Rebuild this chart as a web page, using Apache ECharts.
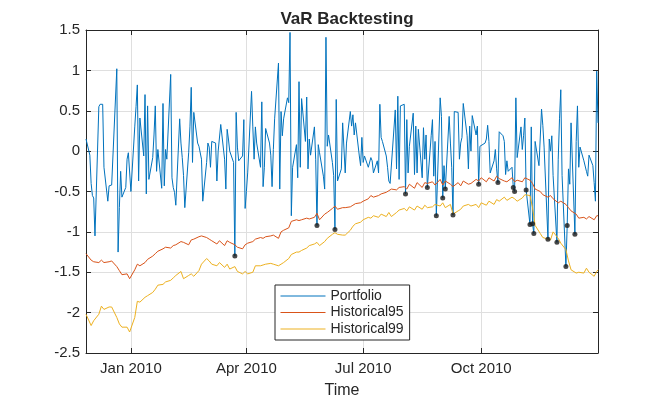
<!DOCTYPE html>
<html>
<head>
<meta charset="utf-8">
<title>VaR Backtesting</title>
<script src="https://cdn.jsdelivr.net/npm/echarts@6/dist/echarts.min.js"></script>
<style>
  html, body { margin: 0; padding: 0; background: #fff; }
  #chart { width: 661px; height: 398px; }
</style>
</head>
<body>
<div id="chart"></div>
<script>
// portfolio returns, one value per trading day (27-Nov-2009 .. 31-Dec-2010)
var portfolio = [
  // late Nov 2009 - mid Jan 2010
  0.15, -0.05, -0.40, -0.55, -0.58, -1.05, 0.55, 0.58, 0.57, 0.58, -0.20, -0.62, -0.43, -0.44, -0.42, -0.43, 1.02, -1.25,
  -0.70, -0.25, -0.57, -0.45, -0.10, -0.02, -0.04, -0.50, 0.30, 0.55, 0.82, -0.37, 0.41, -0.06, 0.70, -0.53, 0.56,
  // mid Jan - early Mar
  -0.35, -0.08, 0.20, 0.56, -0.25, 0.02, -0.46, 0.59, -0.43, 0.02, -0.10, 0.95, -0.33, -0.45, -0.51, -0.67, 0.40, 0.10,
  -0.08, -0.30, -0.70, -0.02, 0.30, 0.79, -0.14, 0.48, 0.10, 0.06, 0.04, -0.10, -0.62, -0.14, 0.10, 0.05, -0.20, 0.12,
  // Mar - Apr
  0.10, -0.37, 0.00, -0.02, 0.33, -0.10, -0.47, 0.27, 0.15, 0.00, -0.14, -1.30, 0.48, 0.05, -0.12, -0.06, 0.39, -0.71,
  -0.50, -0.27, 0.74, 0.30, -0.10, 0.30, 0.10, -0.20, 0.61, -0.44, -0.20, 0.28, 0.10, -0.05, -0.44, 0.02, 0.40,
  // late Apr - early Jun
  1.09, -0.47, 0.49, 0.19, 0.40, 0.66, 0.60, 1.47, -0.80, -0.20, 0.08, -0.33, 0.86, -0.20, 0.65, 0.12, 0.67, -0.22,
  0.15, -0.05, 0.30, -0.10, -0.92, 0.08, -0.02, -0.31, -0.47, 1.41, 0.06, 0.20, -0.14, -0.30, -0.97, 0.64, -0.37,
  // Jun - Jul
  -0.22, 0.35, 0.37, -0.27, 0.10, 0.49, 0.31, 0.45, 0.20, 0.35, -0.06, -0.18, 0.17, -0.14, -0.06, -0.20, -0.18, -0.08,
  -0.12, -0.27, -0.12, -0.27, 0.58, 0.17, 0.12, -0.06, -0.20, -0.37, -0.40, -0.42, 0.51, -0.22, 0.68, -0.35, 0.56,
  // Aug - mid Sep
  0.58, -0.53, 0.39, -0.27, 0.06, 0.47, -0.29, 0.31, -0.27, 0.27, -0.33, 0.29, -0.10, 0.20, -0.45, 0.19, 0.39, -0.31,
  0.12, -0.80, 0.66, 0.43, -0.58, -0.18, -0.47, 0.43, 0.10, -0.20, -0.79, 0.49, 0.48, -0.10, 0.10, 0.17, 0.59,
  // late Sep - early Nov
  0.19, -0.22, 0.31, 0.00, 0.44, 0.20, 0.31, -0.41, 0.06, 0.08, 0.10, 0.15, 0.32, 0.12, -0.27, -0.12, 0.02, -0.22,
  -0.39, 0.24, 0.19, 0.12, -0.29, -0.12, -0.25, -0.20, -0.45, -0.50, 0.66, -0.08, 0.30, 0.02, 0.19, 0.41, -0.48, -0.91,
  // Nov - Dec
  0.30, -0.90, -1.02, 0.12, -0.18, -0.16, 0.52, 0.32, 0.05, -1.09, 0.15, 0.00, 0.19, -0.30, -1.13, -0.10, 0.40, 0.76,
  -0.30, -1.43, -0.92, -0.22, -0.41, 0.35, -1.03, 0.12, 0.56, -0.20, 0.05, -0.12, -0.14, -0.25, -0.31, -0.05, -0.18,
  -0.39, -0.62, 0.99, 0.35
];

// VaR estimates, read every second trading day (last one on the final day)
var historical95 = [
  -1.27, -1.35, -1.37, -1.38, -1.35, -1.38, -1.37, -1.36, -1.43, -1.48,
  -1.53, -1.52, -1.58, -1.47, -1.40, -1.42, -1.38, -1.34, -1.30, -1.27,
  -1.24, -1.21, -1.19, -1.20, -1.17, -1.16, -1.12, -1.13, -1.16, -1.10,
  -1.09, -1.06, -1.05, -1.07, -1.09, -1.11, -1.15, -1.11, -1.17, -1.11,
  -1.13, -1.16, -1.19, -1.21, -1.16, -1.14, -1.12, -1.09, -1.07, -1.08,
  -1.06, -1.05, -1.04, -1.08, -1.00, -0.98, -0.95, -0.87, -0.85, -0.86,
  -0.85, -0.83, -0.84, -0.82, -0.77, -0.85, -0.78, -0.76, -0.71, -0.68,
  -0.72, -0.70, -0.70, -0.69, -0.67, -0.65, -0.64, -0.62, -0.59, -0.55,
  -0.57, -0.55, -0.53, -0.51, -0.49, -0.47, -0.48, -0.45, -0.44, -0.47,
  -0.41, -0.46, -0.39, -0.45, -0.39, -0.40, -0.38, -0.42, -0.35, -0.42,
  -0.37, -0.41, -0.44, -0.39, -0.43, -0.37, -0.41, -0.40, -0.35, -0.37,
  -0.33, -0.38, -0.33, -0.37, -0.31, -0.34, -0.37, -0.38, -0.33, -0.38,
  -0.36, -0.38, -0.33, -0.36, -0.40, -0.47, -0.50, -0.54, -0.57, -0.55,
  -0.59, -0.64, -0.62, -0.66, -0.70, -0.74, -0.78, -0.83, -0.82, -0.84,
  -0.81, -0.85, -0.80, -0.80
];
var historical99 = [
  -2.02, -2.16, -2.10, -2.02, -1.92, -1.96, -1.93, -1.93, -2.06, -2.14,
  -2.18, -2.18, -2.24, -2.06, -1.86, -1.87, -1.81, -1.79, -1.75, -1.71,
  -1.66, -1.65, -1.62, -1.60, -1.57, -1.54, -1.49, -1.58, -1.54, -1.52,
  -1.55, -1.48, -1.40, -1.33, -1.36, -1.40, -1.42, -1.38, -1.44, -1.40,
  -1.46, -1.43, -1.49, -1.52, -1.49, -1.52, -1.50, -1.42, -1.42, -1.41,
  -1.40, -1.39, -1.40, -1.42, -1.40, -1.38, -1.33, -1.28, -1.25, -1.25,
  -1.23, -1.20, -1.17, -1.15, -1.13, -1.17, -1.12, -1.08, -1.03, -1.01,
  -1.03, -1.04, -1.04, -0.98, -0.93, -0.90, -0.88, -0.85, -0.82, -0.83,
  -0.80, -0.82, -0.78, -0.81, -0.76, -0.81, -0.76, -0.73, -0.71, -0.74,
  -0.69, -0.73, -0.68, -0.72, -0.67, -0.70, -0.69, -0.66, -0.68, -0.64,
  -0.70, -0.66, -0.78, -0.74, -0.72, -0.68, -0.66, -0.68, -0.66, -0.70,
  -0.64, -0.67, -0.62, -0.66, -0.60, -0.62, -0.57, -0.61, -0.57, -0.59,
  -0.62, -0.58, -0.54, -0.55, -0.70, -0.92, -1.02, -1.07, -1.09, -1.10,
  -1.00, -1.08, -1.14, -1.22, -1.36, -1.47, -1.51, -1.50, -1.51, -1.45,
  -1.50, -1.55, -1.49, -1.47
];

// trading days where the portfolio falls below the 95% VaR
var exceptionIdx = [82, 128, 138, 177, 190, 195, 198, 200, 204, 218, 229, 237, 238, 245, 246,
  248, 249, 256, 261, 266, 267, 271];

var tickLabels = ['Jan 2010', 'Apr 2010', 'Jul 2010', 'Oct 2010'];
var tickDates = [Date.UTC(2010, 0, 1), Date.UTC(2010, 3, 1), Date.UTC(2010, 6, 1), Date.UTC(2010, 9, 1)];
var yTicks = [-2.5, 1.5, 0.5]; // min, max, step

// trading days (weekdays) starting 27-Nov-2009
var dates = [];
for (var t = Date.UTC(2009, 10, 27); dates.length < portfolio.length; t += 86400000) {
  var wd = new Date(t).getUTCDay();
  if (wd !== 0 && wd !== 6) dates.push(t);
}
var n = dates.length;

function varDate(i) { return dates[Math.min(i * 2, n - 1)]; }

var font = '"Liberation Sans", Arial, Helvetica, sans-serif';
var ink = '#262626';
var gridGray = '#dfdfdf';

var myChart = echarts.init(document.getElementById('chart'));
var option = {
  animation: false,
  backgroundColor: '#fff',
  textStyle: { fontFamily: font },
  title: {
    text: 'VaR Backtesting',
    left: 342,
    textAlign: 'center',
    top: 6,
    textStyle: { fontFamily: font, fontSize: 17, fontWeight: 'bold', color: ink }
  },
  grid: { left: 86, right: 63, top: 30, bottom: 45, containLabel: false, outerBoundsMode: 'none' },
  legend: {
    data: ['Portfolio', 'Historical95', 'Historical99'],
    orient: 'vertical',
    left: 275,
    top: 285,
    itemWidth: 45,
    itemHeight: 14,
    itemGap: 2.5,
    padding: [4, 6, 4, 5],
    backgroundColor: '#fff',
    borderColor: ink,
    borderWidth: 1,
    borderRadius: 0,
    itemStyle: { opacity: 0 },
    lineStyle: { width: 1 },
    textStyle: { fontFamily: font, fontSize: 14, color: ink }
  },
  xAxis: [
    {
      type: 'value',
      min: dates[0],
      max: dates[n - 1],
      position: 'bottom',
      name: 'Time',
      nameLocation: 'middle',
      nameGap: 30,
      nameTextStyle: { fontFamily: font, fontSize: 16, color: ink },
      axisLine: { show: true, onZero: false, lineStyle: { color: ink, width: 1 } },
      axisTick: { show: true, inside: true, length: 5, customValues: tickDates, lineStyle: { color: ink } },
      axisLabel: {
        customValues: tickDates,
        color: ink,
        fontSize: 15,
        fontFamily: font,
        margin: 8,
        formatter: function (v) {
          var i = tickDates.indexOf(v);
          return i >= 0 ? tickLabels[i] : '';
        }
      },
      splitLine: { show: true, lineStyle: { color: gridGray, width: 1 } }
    },
    {
      type: 'value',
      min: dates[0],
      max: dates[n - 1],
      position: 'top',
      axisLine: { show: true, onZero: false, lineStyle: { color: ink, width: 1 } },
      axisTick: { show: true, inside: true, length: 5, customValues: tickDates, lineStyle: { color: ink } },
      axisLabel: { show: false },
      splitLine: { show: false }
    }
  ],
  yAxis: [
    {
      type: 'value',
      min: yTicks[0],
      max: yTicks[1],
      interval: yTicks[2],
      position: 'left',
      axisLine: { show: true, onZero: false, lineStyle: { color: ink, width: 1 } },
      axisTick: { show: true, inside: true, length: 5, lineStyle: { color: ink } },
      axisLabel: { color: ink, fontSize: 15, fontFamily: font, margin: 6 },
      splitLine: { show: true, lineStyle: { color: gridGray, width: 1 } }
    },
    {
      type: 'value',
      min: yTicks[0],
      max: yTicks[1],
      interval: yTicks[2],
      position: 'right',
      axisLine: { show: true, onZero: false, lineStyle: { color: ink, width: 1 } },
      axisTick: { show: true, inside: true, length: 5, lineStyle: { color: ink } },
      axisLabel: { show: false },
      splitLine: { show: false }
    }
  ],
  series: [
    {
      name: 'Portfolio',
      type: 'line',
      symbol: 'none',
      color: '#0072BD',
      lineStyle: { width: 1, color: '#0072BD' },
      data: portfolio.map(function (v, i) { return [dates[i], v]; })
    },
    {
      name: 'Historical95',
      type: 'line',
      symbol: 'none',
      color: '#D95319',
      lineStyle: { width: 1, color: '#D95319' },
      data: historical95.map(function (v, i) { return [varDate(i), v]; })
    },
    {
      name: 'Historical99',
      type: 'line',
      symbol: 'none',
      color: '#EDB120',
      lineStyle: { width: 1, color: '#EDB120' },
      data: historical99.map(function (v, i) { return [varDate(i), v]; })
    },
    {
      name: 'Exceptions',
      type: 'scatter',
      symbol: 'circle',
      symbolSize: 5,
      z: 5,
      itemStyle: { color: '#1a1a1a' },
      data: exceptionIdx.map(function (i) { return [dates[i], portfolio[i]]; })
    }
  ]
};
myChart.setOption(option);
window.addEventListener('resize', function () {
  myChart.resize();
});
</script>
</body>
</html>
